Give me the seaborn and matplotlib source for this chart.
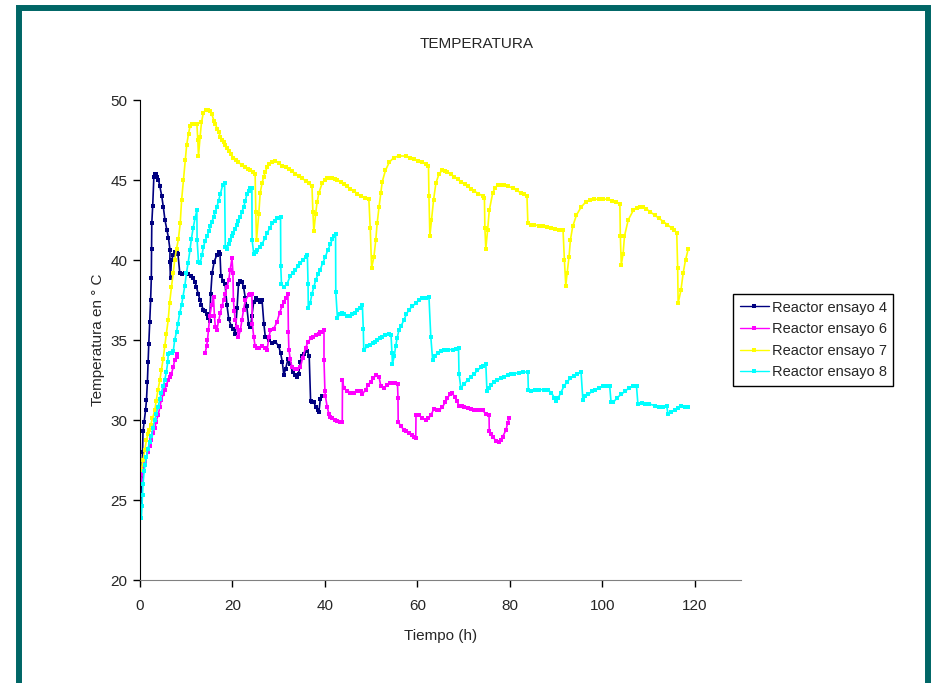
import numpy as np
import pandas as pd
import matplotlib.pyplot as plt
import seaborn as sns
from matplotlib.lines import Line2D
from matplotlib.patches import Rectangle


# (tiempo h, temperatura °C)
ENSAYO_4 = [
    (0.2, 24.9), (0.4, 26.5), (0.55, 28.0), (0.65, 29.3), (0.9, 29.9), (1.2, 30.6),
    (1.4, 31.25), (1.6, 32.4), (1.75, 33.6), (1.9, 34.75), (2.1, 36.1), (2.3, 37.5),
    (2.45, 38.9), (2.5, 40.7), (2.55, 42.3), (2.75, 43.4), (3.0, 45.2), (3.3, 45.4),
    (3.5, 45.35), (3.75, 45.2), (4.0, 45.0), (4.3, 44.6), (4.7, 44.0), (5.05, 43.3),
    (5.4, 42.5), (5.8, 41.9), (6.15, 41.4), (6.5, 40.6), (6.45, 39.9), (6.6, 38.85),
    (6.8, 40.0), (7.2, 40.3), (7.5, 40.5), (7.9, 40.6), (8.2, 40.4), (8.6, 39.2),
    (9.0, 39.1), (9.7, 39.2), (10.4, 39.1), (11.1, 39.0), (11.5, 38.9), (11.9, 38.65),
    (12.2, 38.3), (12.6, 37.9), (12.95, 37.5), (13.3, 37.2), (13.7, 36.9), (14.0, 36.8),
    (14.4, 36.6), (14.75, 36.35), (15.1, 36.2), (15.3, 37.9), (15.6, 39.2), (16.05, 39.9),
    (16.6, 40.3), (17.1, 40.5), (17.3, 40.4), (17.5, 39.0), (18.0, 38.7), (18.4, 38.5),
    (18.8, 37.2), (19.2, 36.3), (19.7, 35.9), (20.2, 35.7), (20.6, 35.4), (21.0, 37.0),
    (21.3, 38.5), (21.7, 38.7), (22.05, 38.65), (22.4, 38.3), (22.8, 37.6), (23.1, 37.1),
    (23.5, 36.0), (23.9, 35.8), (24.2, 36.5), (24.6, 37.4), (25.0, 37.6), (25.5, 37.5),
    (26.0, 37.4), (26.4, 37.5), (26.8, 36.0), (27.1, 35.2), (27.8, 35.0), (28.6, 34.8),
    (29.3, 34.9), (30.0, 34.6), (30.4, 34.2), (30.8, 33.6), (31.1, 32.8), (31.5, 33.2),
    (32.0, 33.8), (32.5, 33.5), (33.0, 33.0), (33.5, 32.8), (34.0, 32.7), (34.3, 32.9),
    (34.7, 33.6), (35.0, 34.0), (35.4, 34.1), (35.8, 34.3), (36.2, 34.3), (36.6, 34.0),
    (36.9, 31.2), (37.3, 31.1), (37.6, 31.15), (38.0, 30.8), (38.4, 30.6), (38.7, 30.5),
    (39.0, 31.3), (39.4, 31.5),
]

# NaN marks the hours without data (the line is broken there)
ENSAYO_6 = [
    (0.3, 26.2), (0.5, 26.6), (0.7, 27.0), (1.0, 27.4), (1.4, 27.7), (1.7, 28.0),
    (2.1, 28.4), (2.45, 28.75), (2.8, 29.2), (3.2, 29.5), (3.5, 29.9), (3.9, 30.3),
    (4.3, 30.8), (4.6, 31.25), (5.0, 31.6), (5.35, 31.9), (5.7, 32.2), (6.1, 32.5),
    (6.4, 32.7), (6.8, 32.9), (7.2, 33.3), (7.5, 33.75), (7.9, 33.95), (8.1, 34.1),
    (np.nan, np.nan),
    (14.1, 34.2), (14.4, 34.6), (14.6, 35.0), (14.8, 35.6), (15.1, 36.5), (15.5, 37.2),
    (15.9, 37.7), (16.1, 36.5), (16.3, 35.8), (16.6, 35.6), (17.0, 36.2), (17.4, 36.7),
    (17.7, 37.1), (18.1, 37.5), (18.4, 37.9), (18.8, 38.3), (19.2, 38.75), (19.5, 39.4),
    (19.9, 40.1), (20.1, 39.2), (20.2, 37.5), (20.4, 36.8), (20.6, 36.25), (21.0, 35.8),
    (21.3, 35.2), (21.7, 35.6), (22.05, 36.25), (22.4, 36.9), (22.8, 37.5), (23.5, 37.8),
    (23.9, 37.9), (24.2, 37.9), (24.3, 36.0), (24.6, 35.2), (24.9, 34.6), (25.3, 34.5),
    (25.7, 34.5), (26.4, 34.6), (27.0, 34.5), (27.5, 34.4), (27.9, 35.2), (28.2, 35.6),
    (28.9, 35.7), (29.6, 36.1), (30.2, 36.7), (30.7, 37.1), (31.1, 37.4), (31.5, 37.6),
    (32.0, 37.9), (32.1, 35.5), (32.2, 34.4), (32.5, 33.8), (32.9, 33.3), (33.5, 33.2),
    (34.0, 33.2), (34.7, 33.3), (35.2, 33.9), (35.8, 34.5), (36.4, 34.9), (36.9, 35.1),
    (37.5, 35.2), (38.0, 35.3), (38.7, 35.4), (39.0, 35.5), (39.4, 35.5), (39.8, 35.6),
    (39.8, 33.75), (40.0, 31.8), (40.1, 31.5), (40.5, 30.8), (40.85, 30.4), (41.2, 30.2),
    (41.6, 30.1), (42.2, 30.0), (42.7, 29.95), (43.2, 29.9), (43.75, 29.9), (43.8, 32.5),
    (44.1, 32.0), (44.8, 31.8), (45.5, 31.7), (46.3, 31.7), (47.0, 31.8), (47.7, 31.8),
    (48.1, 31.6), (48.8, 31.9), (49.4, 32.2), (49.9, 32.4), (50.5, 32.6), (51.0, 32.8),
    (51.7, 32.7), (52.1, 32.1), (52.8, 32.0), (53.5, 32.2), (54.1, 32.3), (54.6, 32.3),
    (55.2, 32.3), (55.7, 32.25), (55.8, 31.4), (55.85, 29.9), (56.4, 29.6), (57.1, 29.4),
    (57.6, 29.3), (58.2, 29.2), (58.8, 29.05), (59.3, 28.95), (59.65, 28.9), (59.7, 30.3),
    (60.4, 30.3), (61.1, 30.1), (61.8, 30.0), (62.4, 30.1), (62.9, 30.3), (63.6, 30.7),
    (64.2, 30.6), (64.7, 30.6), (65.4, 30.8), (66.0, 31.1), (66.5, 31.35), (67.0, 31.6),
    (67.4, 31.7), (68.1, 31.45), (68.5, 31.2), (69.0, 30.9), (69.6, 30.85), (70.1, 30.8),
    (70.9, 30.75), (71.6, 30.7), (72.2, 30.65), (72.7, 30.6), (73.4, 30.6), (74.1, 30.6),
    (74.8, 30.4), (75.5, 30.3), (75.55, 29.3), (75.9, 29.1), (76.3, 28.95), (77.0, 28.7),
    (77.7, 28.6), (78.1, 28.75), (78.45, 28.95), (79.2, 29.4), (79.5, 29.8), (79.9, 30.1),
]

ENSAYO_7 = [
    (0.3, 26.9), (0.65, 27.5), (1.0, 28.1), (1.4, 28.75), (1.7, 29.1), (2.0, 29.4),
    (2.3, 29.7), (2.7, 30.1), (3.2, 30.6), (3.5, 31.2), (3.9, 31.9), (4.3, 32.5),
    (4.6, 33.1), (5.0, 33.8), (5.35, 34.6), (5.7, 35.4), (6.1, 36.25), (6.4, 37.3),
    (6.8, 38.3), (7.2, 39.2), (7.5, 40.0), (7.9, 40.7), (8.3, 41.3), (8.7, 42.3),
    (9.0, 43.75), (9.4, 45.0), (9.8, 46.25), (10.1, 47.2), (10.5, 47.9), (10.85, 48.4),
    (11.2, 48.5), (11.6, 48.5), (12.0, 48.5), (12.3, 48.5), (12.5, 47.5), (12.65, 46.5),
    (13.0, 47.7), (13.3, 48.6), (13.7, 49.2), (14.3, 49.4), (14.8, 49.4), (15.2, 49.3),
    (15.55, 49.1), (16.0, 48.7), (16.3, 48.5), (16.7, 48.2), (17.0, 48.0), (17.4, 47.7),
    (17.7, 47.5), (18.1, 47.35), (18.4, 47.2), (18.8, 47.0), (19.2, 46.8), (19.7, 46.6),
    (20.2, 46.4), (20.8, 46.25), (21.3, 46.1), (22.0, 45.95), (22.8, 45.8), (23.3, 45.7),
    (23.9, 45.6), (24.4, 45.5), (24.9, 45.4), (25.05, 43.0), (25.2, 41.25), (25.7, 42.9),
    (26.0, 44.2), (26.4, 44.8), (26.75, 45.2), (27.1, 45.5), (27.5, 45.8), (28.0, 46.0),
    (28.6, 46.1), (29.3, 46.2), (30.0, 46.05), (30.7, 45.9), (31.5, 45.8), (32.2, 45.7),
    (32.9, 45.55), (33.6, 45.4), (34.4, 45.25), (35.1, 45.1), (35.8, 44.95), (36.5, 44.8),
    (37.2, 44.6), (37.4, 43.0), (37.6, 41.8), (38.0, 42.9), (38.3, 43.6), (38.7, 44.2),
    (39.4, 44.8), (40.0, 45.0), (40.5, 45.1), (41.0, 45.1), (41.6, 45.1), (42.1, 45.05),
    (42.7, 45.0), (43.4, 44.9), (44.1, 44.75), (44.8, 44.6), (45.5, 44.45), (46.3, 44.3),
    (47.0, 44.15), (47.7, 44.0), (48.6, 43.9), (49.5, 43.8), (49.8, 42.0), (50.1, 39.5),
    (50.6, 40.2), (51.0, 41.25), (51.3, 42.3), (51.7, 43.3), (52.1, 44.2), (52.4, 44.9),
    (53.1, 45.6), (53.9, 46.1), (54.9, 46.4), (56.0, 46.5), (57.5, 46.5), (58.4, 46.4),
    (59.3, 46.3), (60.2, 46.2), (61.1, 46.1), (61.8, 46.0), (62.4, 45.9), (62.5, 44.0),
    (62.7, 41.5), (63.05, 42.5), (63.5, 43.75), (64.0, 44.8), (64.7, 45.4), (65.4, 45.6),
    (66.0, 45.55), (66.5, 45.5), (67.3, 45.35), (68.0, 45.2), (68.7, 45.05), (69.4, 44.9),
    (70.2, 44.75), (70.9, 44.6), (71.6, 44.45), (72.3, 44.3), (73.2, 44.15), (74.1, 44.0),
    (74.5, 43.85), (74.6, 42.0), (74.8, 40.7), (75.2, 41.9), (75.55, 43.1), (76.3, 44.2),
    (76.8, 44.5), (77.4, 44.7), (78.1, 44.7), (78.8, 44.7), (79.7, 44.6), (80.6, 44.5),
    (81.5, 44.35), (82.4, 44.2), (83.1, 44.1), (83.7, 44.0), (83.9, 42.3), (84.6, 42.2),
    (85.3, 42.2), (86.2, 42.15), (87.1, 42.1), (88.0, 42.05), (88.9, 42.0), (89.7, 41.95),
    (90.6, 41.9), (91.5, 41.9), (91.8, 40.0), (92.1, 38.4), (92.4, 39.2), (92.8, 40.2),
    (93.1, 41.25), (93.6, 42.1), (94.4, 42.8), (95.4, 43.3), (96.5, 43.65), (97.4, 43.75),
    (98.3, 43.8), (99.3, 43.8), (100.2, 43.8), (101.2, 43.8), (102.0, 43.7), (102.9, 43.6),
    (103.8, 43.5), (103.9, 41.5), (104.1, 39.7), (104.5, 40.4), (104.8, 41.5), (105.6, 42.5),
    (106.7, 43.1), (107.4, 43.25), (108.1, 43.3), (108.8, 43.3), (109.5, 43.2), (110.4, 43.0),
    (111.35, 42.8), (112.3, 42.6), (113.2, 42.4), (114.1, 42.2), (115.0, 42.0), (115.6, 41.85),
    (116.1, 41.7), (116.3, 39.5), (116.4, 37.3), (117.0, 38.1), (117.5, 39.2), (118.0, 40.0),
    (118.6, 40.7),
]

ENSAYO_8 = [
    (0.3, 23.85), (0.43, 24.6), (0.55, 25.3), (0.65, 26.0), (0.9, 26.8), (1.1, 27.2),
    (1.4, 27.7), (1.7, 28.2), (2.1, 28.6), (2.45, 29.0), (2.8, 29.5), (3.2, 30.0),
    (3.5, 30.4), (3.9, 30.8), (4.3, 31.3), (4.6, 31.7), (5.0, 32.1), (5.35, 32.5),
    (5.7, 33.0), (6.0, 33.6), (6.1, 34.1), (6.5, 34.2), (6.9, 34.2), (7.2, 34.3),
    (7.5, 35.0), (7.9, 35.5), (8.2, 36.0), (8.6, 36.7), (9.0, 37.2), (9.3, 37.7),
    (9.7, 38.4), (10.05, 39.2), (10.4, 39.8), (10.8, 40.6), (11.1, 41.3), (11.5, 42.0),
    (11.9, 42.6), (12.3, 43.1), (12.35, 41.25), (12.65, 39.9), (13.0, 39.8), (13.4, 40.3),
    (13.7, 40.8), (14.1, 41.2), (14.5, 41.5), (14.9, 41.8), (15.2, 42.1), (15.6, 42.4),
    (15.9, 42.7), (16.3, 43.0), (16.6, 43.3), (17.0, 43.7), (17.35, 44.1), (17.9, 44.7),
    (18.3, 44.8), (18.45, 40.8), (18.8, 40.7), (19.2, 41.0), (19.5, 41.25), (19.9, 41.5),
    (20.2, 41.7), (20.6, 41.95), (21.0, 42.2), (21.3, 42.45), (21.7, 42.7), (22.05, 43.0),
    (22.4, 43.3), (22.8, 43.7), (23.1, 44.1), (23.5, 44.3), (23.9, 44.5), (24.2, 44.5),
    (24.25, 41.25), (24.6, 40.4), (25.0, 40.5), (25.3, 40.6), (25.9, 40.8), (26.4, 41.0),
    (27.0, 41.35), (27.5, 41.7), (28.1, 42.0), (28.6, 42.3), (29.1, 42.45), (29.65, 42.6),
    (30.0, 42.65), (30.4, 42.7), (30.45, 39.6), (30.6, 38.5), (31.1, 38.3), (31.8, 38.5),
    (32.5, 39.0), (33.1, 39.2), (33.6, 39.4), (34.2, 39.6), (34.7, 39.8), (35.3, 40.0),
    (35.8, 40.2), (36.2, 40.3), (36.35, 38.5), (36.4, 37.0), (36.8, 37.3), (37.2, 37.9),
    (37.6, 38.3), (38.0, 38.75), (38.5, 39.1), (39.0, 39.4), (39.5, 39.8), (40.1, 40.2),
    (40.6, 40.6), (41.2, 41.0), (41.6, 41.3), (41.9, 41.5), (42.3, 41.6), (42.35, 38.0),
    (42.7, 36.4), (43.2, 36.6), (43.7, 36.7), (44.2, 36.6), (44.8, 36.5), (45.4, 36.5),
    (45.9, 36.6), (46.5, 36.7), (47.0, 36.9), (47.6, 37.0), (48.1, 37.2), (48.3, 35.7),
    (48.4, 34.4), (49.2, 34.6), (49.8, 34.7), (50.3, 34.8), (50.8, 34.9), (51.3, 35.0),
    (51.9, 35.1), (52.4, 35.2), (53.1, 35.3), (53.9, 35.4), (54.3, 35.3), (54.5, 34.2),
    (54.6, 33.5), (55.0, 34.0), (55.3, 34.6), (55.6, 35.1), (56.0, 35.6), (56.5, 35.9),
    (57.1, 36.25), (57.6, 36.6), (58.2, 36.9), (58.9, 37.1), (59.65, 37.3), (60.4, 37.5),
    (61.1, 37.6), (61.8, 37.65), (62.5, 37.7), (62.9, 35.2), (63.3, 33.75), (63.8, 34.0),
    (64.4, 34.2), (65.1, 34.3), (65.8, 34.4), (66.7, 34.4), (67.6, 34.4), (68.3, 34.45),
    (68.9, 34.5), (69.0, 32.9), (69.4, 32.0), (70.1, 32.25), (70.9, 32.5), (71.6, 32.7),
    (72.3, 32.9), (73.0, 33.1), (73.75, 33.3), (74.3, 33.4), (74.8, 33.5), (75.05, 31.8),
    (75.55, 32.0), (76.0, 32.2), (76.6, 32.4), (77.3, 32.5), (78.1, 32.6), (78.8, 32.7),
    (79.5, 32.8), (80.2, 32.85), (81.0, 32.9), (81.9, 32.95), (82.8, 33.0), (83.9, 33.0),
    (84.0, 31.9), (84.6, 31.8), (85.5, 31.85), (86.4, 31.9), (87.3, 31.9), (88.2, 31.9),
    (89.0, 31.7), (89.6, 31.4), (90.0, 31.2), (90.5, 31.4), (91.0, 31.7), (91.7, 32.1),
    (92.4, 32.4), (93.1, 32.6), (93.8, 32.75), (94.6, 32.9), (95.4, 33.0), (95.8, 31.25),
    (96.3, 31.5), (97.0, 31.6), (97.8, 31.8), (98.5, 31.9), (99.3, 32.0), (100.1, 32.1),
    (100.9, 32.1), (101.6, 32.1), (101.9, 31.1), (102.4, 31.1), (103.2, 31.4), (104.1, 31.6),
    (104.9, 31.8), (105.8, 32.0), (106.6, 32.1), (107.4, 32.1), (107.7, 31.0), (108.5, 31.05),
    (109.3, 31.0), (110.2, 31.0), (111.3, 30.9), (112.2, 30.8), (113.1, 30.8), (113.9, 30.9),
    (114.2, 30.4), (114.9, 30.5), (115.7, 30.6), (116.4, 30.75), (117.1, 30.85), (117.8, 30.8),
    (118.6, 30.8),
]

SERIES = {
    "Reactor ensayo 4": ENSAYO_4,
    "Reactor ensayo 6": ENSAYO_6,
    "Reactor ensayo 7": ENSAYO_7,
    "Reactor ensayo 8": ENSAYO_8,
}
COLORS = {
    "Reactor ensayo 4": "#000080",
    "Reactor ensayo 6": "#FF00FF",
    "Reactor ensayo 7": "#FFFF00",
    "Reactor ensayo 8": "#00FFFF",
}

X_TICKS = [0, 20, 40, 60, 80, 100, 120]
Y_TICKS = [20, 25, 30, 35, 40, 45, 50]


def to_frame(name, points):
    df = pd.DataFrame(points, columns=["Tiempo", "Temperatura"])
    # a new segment starts after each gap
    df["Tramo"] = name + "_" + df["Temperatura"].isna().cumsum().astype(str)
    df["Serie"] = name
    return df.dropna()


if __name__ == "__main__":
    data = pd.concat([to_frame(k, v) for k, v in SERIES.items()], ignore_index=True)

    sns.set_style("ticks")
    plt.rcParams["font.family"] = ["Liberation Sans", "DejaVu Sans"]

    fig = plt.figure(figsize=(9.36, 6.83), dpi=100)
    ax = fig.add_axes([140 / 936, 1 - 580 / 683, 601 / 936, 480 / 683])

    for name in SERIES:
        sns.lineplot(
            data=data[data["Serie"] == name],
            x="Tiempo",
            y="Temperatura",
            units="Tramo",
            estimator=None,
            sort=False,
            color=COLORS[name],
            linewidth=1.2,
            marker="s",
            markersize=3.5,
            markeredgewidth=0,
            legend=False,
            ax=ax,
        )

    ax.set_xlim(0, 130)
    ax.set_ylim(20, 50)
    ax.set_xticks(X_TICKS)
    ax.set_yticks(Y_TICKS)
    ax.tick_params(axis="both", labelsize=11, length=5, width=1, color="black")
    ax.tick_params(axis="x", pad=9)
    ax.tick_params(axis="y", pad=4)
    ax.spines["top"].set_visible(False)
    ax.spines["right"].set_visible(False)
    ax.spines["left"].set_color("black")
    ax.spines["bottom"].set_color("#808080")
    ax.set_xlabel("Tiempo (h)", fontsize=11, labelpad=11)
    ax.set_ylabel("Temperatura en ° C", fontsize=11, labelpad=4)

    fig.text(477 / 936, 1 - 44 / 683, "TEMPERATURA", ha="center", va="center", fontsize=11)

    handles = [
        Line2D([0], [0], color=COLORS[n], lw=1.0, marker="s", markersize=3, markeredgewidth=0)
        for n in SERIES
    ]
    leg = fig.legend(
        handles, list(SERIES),
        loc="upper left",
        bbox_to_anchor=(733 / 936, 1 - 294 / 683),
        frameon=True, fancybox=False, framealpha=1,
        edgecolor="black", fontsize=10.5,
        borderpad=0.45, handlelength=2.0, handletextpad=0.2,
        labelspacing=0.52, borderaxespad=0,
    )
    leg.get_frame().set_linewidth(1.0)

    # teal frame around the whole chart
    fig.patches.append(Rectangle(
        (19 / 936, -0.05), 909 / 936, 1.05 + (1 - 8 / 683) - 1,
        transform=fig.transFigure, fill=False,
        edgecolor="#006666", linewidth=4.3, zorder=10,
    ))

    fig.savefig("out.png", dpi=100)
    plt.close(fig)
